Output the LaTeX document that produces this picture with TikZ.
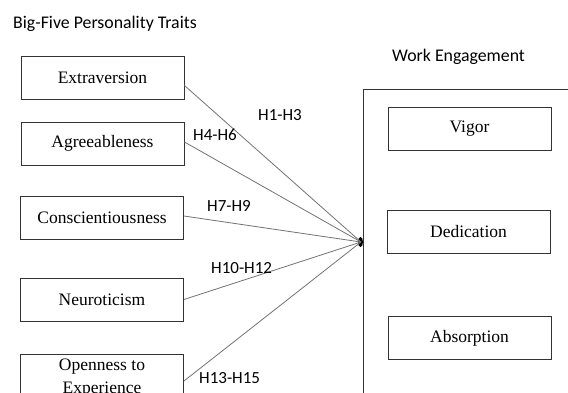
\documentclass[tikz,border=0pt]{standalone}
\usepackage{fontspec}
\usetikzlibrary{shapes.geometric}
\setmainfont{Liberation Serif}
\newfontfamily\calfont{Carlito}
\begin{document}
\begin{tikzpicture}[x=1pt,y=-1pt,
  box/.style={draw=black!80, line width=0.9pt, minimum width=163pt, minimum height=43pt, inner sep=0pt,
    font=\fontsize{17.5}{23}\selectfont, align=center},
  lab/.style={font=\calfont\fontsize{17}{20}\selectfont, anchor=base west, inner sep=0pt},
  ttl/.style={font=\calfont\fontsize{17.8}{20}\selectfont, anchor=base west, inner sep=0pt},
  link/.style={draw=black!55, line width=0.8pt}]
\useasboundingbox (0,0) rectangle (568,392);
\clip (0,0) rectangle (568,392);
\fill[white] (0,0) rectangle (568,392);
% titles
\node[ttl] (t1) at (13,28) {Big-Five Personality Traits};
\node[ttl] (t2) at (392,61) {Work Engagement};
% left boxes
\node[box] (ext) at (102.5,77.5) {Extraversion};
\node[box] (agr) at (102.5,143.5) {Agreeableness};
\node[box] (con) at (102,217.5) {Conscientiousness};
\node[box] (neu) at (102,299.5) {Neuroticism};
\node[box, minimum height=48pt] (ope) at (102,378) {Openness to\\Experience};
% engagement frame
\draw[black!80, line width=0.9pt] (600,89) -- (363,89) -- (363,420);
\node[box] (vig) at (469.5,129) {Vigor};
\node[box] (ded) at (468.5,232) {Dedication};
\node[box] (abs) at (469.5,338) {Absorption};
% junction dot
\node[fill=black, ellipse, minimum width=5pt, minimum height=10pt, inner sep=0pt] (dot) at (360.5,242) {};
\coordinate (c) at (361,242);
% connectors
\draw[link] ([yshift=-8pt]ext.east) -- (c);
\draw[link] ([yshift=1.5pt]agr.east) -- (c);
\draw[link] ([yshift=1.5pt]con.east) -- (c);
\draw[link] (neu.east) -- (c);
\draw[link] ([yshift=-3pt]ope.east) -- (c);
% labels
\node[lab] (h1) at (258,120) {H1-H3};
\node[lab] (h4) at (193,140) {H4-H6};
\node[lab] (h7) at (207,211) {H7-H9};
\node[lab] (h10) at (211,273) {H10-H12};
\node[lab] (h13) at (199,383) {H13-H15};
\end{tikzpicture}
\end{document}
